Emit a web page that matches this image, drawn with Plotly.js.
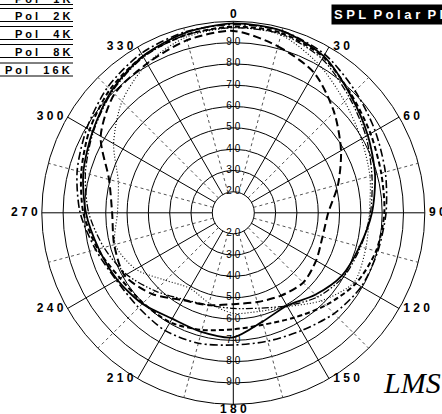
<!DOCTYPE html>
<html><head><meta charset="utf-8">
<script src="https://cdn.plot.ly/plotly-3.0.1.min.js"></script>
<style>html,body{margin:0;padding:0;background:#fff}#chart{width:442px;height:414px}</style>
</head><body><div id="chart"></div>
<script>
// ---- data (dB SPL), every 15 degrees ----
const angles = [0,15,30,45,60,75,90,105,120,135,150,165,180,195,210,225,240,255,270,285,300,315,330,345];
const pol500 = [98.5,98.5,96,91,87,84,81.8,80.3,79.5,77,74,72.5,72.2,73.5,74,73,73.5,77,82,86,89.5,93.5,96.5,98];
const pol1K  = [97.5,97.5,94.5,88.5,84.5,82,81,79.5,76.5,71.5,67,64.5,64.8,67,69.5,70,71.5,76,80.5,84,88,92,95,96.5];
const pol2K  = [99,98.5,95,88,83,79,75.2,71.5,69,64.5,60.5,63,68.6,68,67.5,70.5,73,75.5,79.3,83,86.4,91,95,97.5];
const pol4K  = [97,97,93.5,87,82,77.5,74.5,72,70,66,60.5,56.5,55,55,57,62,68,73,78,82,86,90.5,94.5,96.5];
const pol8K  = [97,96.5,90.5,84,79.5,76.5,74,74.5,75.5,68.5,61,58,57.3,54,51,55,63,67.5,64.5,66,75,84,91,95.5];
const pol16K = [95.5,91,86,77,68.5,61,54.7,53.5,55,56.5,55,53.5,53,55,57.5,64,69,68,67,70.5,82,89,91,94];

const seriesNames = ["Pol 500","Pol 1K","Pol 2K","Pol 4K","Pol 8K","Pol 16K"];
const NB = "\u00A0";
const legendLabels = ["P o l"+NB.repeat(4)+" 1 K","P o l"+NB.repeat(4)+" 2 K","P o l"+NB.repeat(4)+" 4 K",
                      "P o l"+NB.repeat(4)+" 8 K","P o l"+NB.repeat(4)+" 1 6 K"];
const angularTickVals = [0,30,60,90,120,150,180,210,240,270,300,330];
const angularTickText = ["0","3 0","6 0","9 0","1 2 0","1 5 0","1 8 0","2 1 0","2 4 0","2 7 0","3 0 0","3 3 0"];
const minorSpokeVals = [15,45,75,105,135,165,195,225,255,285,315,345];
const radialTickVals = [20,30,40,50,60,70,80,90];
const radialTickText = ["2 0","3 0","4 0","5 0","6 0","7 0","8 0","9 0"];
const titleText = "S P L"+NB+" P o l a r"+NB+" P l o t";
const logoText = "LMS";

// ---- styles ----
const W = 442, H = 414;
const cx = 233.3, cy = 212.8, R = 191.5;
const dom = {x:[(cx-R)/W,(cx+R)/W], y:[1-(cy+R)/H, 1-(cy-R)/H]};
const hole = 21/R;
const styles = [
  {dash:"8px,3px,2px,3px", width:1.6},
  {dash:"5px,3px", width:2},
  {dash:"solid", width:1.8},
  {dash:"7px,2px,1.5px,2px,1.5px,2px", width:1.3},
  {dash:"1px,2px", width:1.1},
  {dash:"8px,4px", width:2}
];
const allSeries = [pol500,pol1K,pol2K,pol4K,pol8K,pol16K];
const font = 'Liberation Sans, Arial, sans-serif';

const traces = [];
// radial labels (top and bottom)
[0,180].forEach(t => traces.push({
  type:'scatterpolar', subplot:'polar', mode:'text',
  r: radialTickVals, theta: radialTickVals.map(()=>t), text: radialTickText,
  textposition:'middle center', cliponaxis:false,
  textfont:{family:font, size:10, color:'#000'}, hoverinfo:'skip', showlegend:false
}));
// angular labels placed on the outer ring
const angPos = angularTickVals.map(a => a===0 ? 'top center' : a===180 ? 'bottom center' : a<180 ? 'middle right' : 'middle left');
const angMk = angularTickVals.map(a => (a%180===0) ? 0 : 5);
traces.push({
  type:'scatterpolar', subplot:'polar', mode:'text+markers',
  r: angularTickVals.map(()=>100), theta: angularTickVals, text: angularTickText,
  textposition: angPos, cliponaxis:false,
  marker:{size:angMk, opacity:0},
  textfont:{family:font, size:12, color:'#000', weight:'bold'}, hoverinfo:'skip', showlegend:false
});
allSeries.forEach((s,i) => traces.push({
  type:'scatterpolar', subplot:'polar2', mode:'lines', name:seriesNames[i],
  r: s.concat([s[0]]), theta: angles.concat([360]),
  line:{color:'#000', width:styles[i].width, dash:styles[i].dash, shape:'spline', smoothing:0.8},
  showlegend:false, hoverinfo:'skip'
}));

const annotations = [];
const shapes = [];
const rowCenters = [-1,16,34,52,70.5];
legendLabels.forEach((lab,i) => {
  annotations.push({text:lab, xref:'paper', yref:'paper', x:72/W, y:1-rowCenters[i]/H,
    xanchor:'right', yanchor:'middle', showarrow:false,
    font:{family:font, size:11, color:'#000', weight:'bold'}});
  [rowCenters[i]-7.5, rowCenters[i]+5.5].forEach(yy => shapes.push({type:'line', xref:'paper', yref:'paper',
    x0:0, x1:73/W, y0:1-yy/H, y1:1-yy/H, line:{color:'#000', width:1}}));
});
annotations.push({text:titleText, xref:'paper', yref:'paper', x:331/W, y:1-4/H, xanchor:'left', yanchor:'top',
  showarrow:false, bgcolor:'#000', borderpad:2, font:{family:font, size:13, color:'#fff', weight:'bold'}});
annotations.push({text:logoText, xref:'paper', yref:'paper', x:412/W, y:1-382/H, xanchor:'center', yanchor:'middle',
  showarrow:false, font:{family:'Liberation Serif, serif', size:30, color:'#000', style:'italic'}});

const layout = {
  width:W, height:H, margin:{l:0,r:0,t:0,b:0}, paper_bgcolor:'#fff', showlegend:false,
  polar:{domain:dom, hole:hole, bgcolor:'#fff',
    radialaxis:{range:[20,100], tickvals:radialTickVals.concat([100]), showticklabels:false, ticks:'',
      showline:false, gridcolor:'#000', gridwidth:1, angle:90},
    angularaxis:{rotation:90, direction:'clockwise', tickvals:angularTickVals, showticklabels:false,
      ticks:'', showline:true, linecolor:'#000', linewidth:1, gridcolor:'#000', gridwidth:1}
  },
  polar2:{domain:dom, hole:hole, bgcolor:'rgba(0,0,0,0)',
    radialaxis:{range:[20,100], showgrid:false, showline:false, showticklabels:false, ticks:''},
    angularaxis:{rotation:90, direction:'clockwise', tickvals:minorSpokeVals, showticklabels:false, ticks:'',
      showline:false, gridcolor:'#555', gridwidth:1, griddash:'dot'}
  },
  annotations:annotations, shapes:shapes
};
Plotly.newPlot('chart', traces, layout, {staticPlot:true});
</script></body></html>
